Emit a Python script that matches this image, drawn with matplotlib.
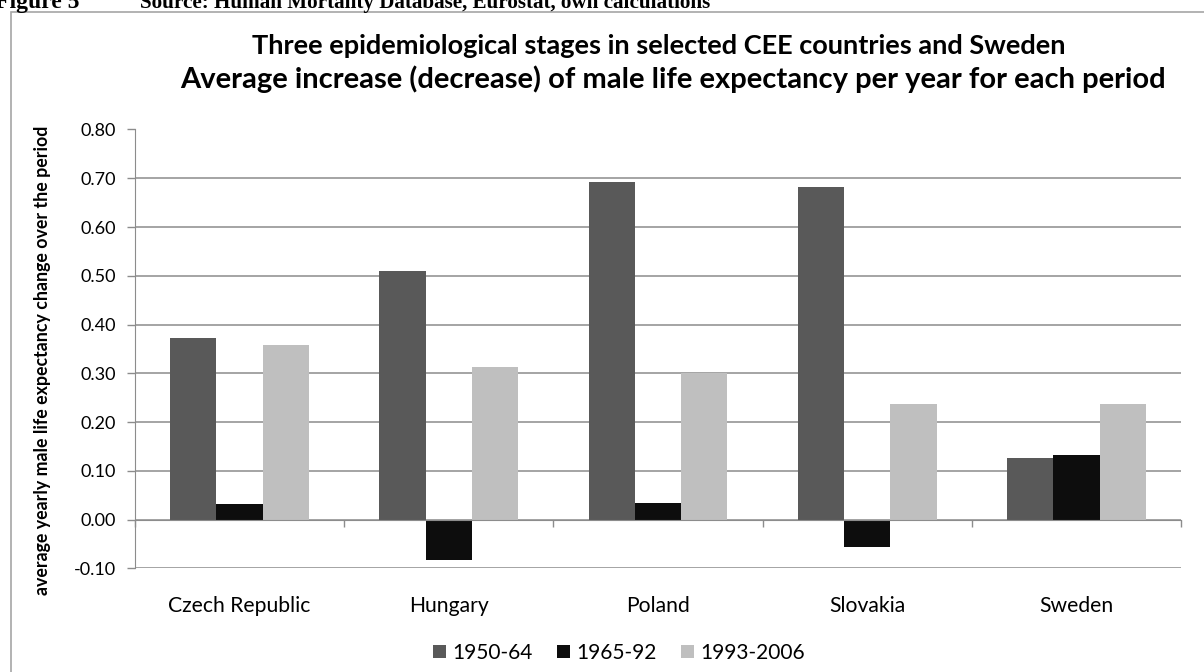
import matplotlib
matplotlib.use("Agg")
import matplotlib.pyplot as plt
import numpy as np
from matplotlib.patches import Rectangle

countries = ["Czech Republic", "Hungary", "Poland", "Slovakia", "Sweden"]
periods = ["1950-64", "1965-92", "1993-2006"]
change_1950_64 = [0.373, 0.510, 0.693, 0.682, 0.127]
change_1965_92 = [0.031, -0.083, 0.033, -0.057, 0.132]
change_1993_2006 = [0.359, 0.313, 0.300, 0.238, 0.238]
yticks = [-0.10, 0.00, 0.10, 0.20, 0.30, 0.40, 0.50, 0.60, 0.70, 0.80]

colors = ["#595959", "#0d0d0d", "#bfbfbf"]
grid_col = "#8c8c8c"
font = "Lato"

W, H = 1204, 672
fig = plt.figure(figsize=(W / 100, H / 100), dpi=100)

# frame around the chart, running off the right and bottom edges
fig.patches.append(Rectangle((11 / W, -0.1), 1.2, 1 - 12 / H + 0.1,
                             transform=fig.transFigure, fill=False,
                             edgecolor="#a6a6a6", lw=1.2))

# cut-off caption line above the chart
fig.text(-0.004, 1 - 8 / H, "Figure 5", family="Liberation Serif",
         weight="bold", size=17, va="baseline")
fig.text(140 / W, 1 - 8 / H,
         "Source: Human Mortality Database, Eurostat, own calculations",
         family="Liberation Serif", weight="bold", size=15.2, va="baseline")

# two-line chart title
fig.text(659 / W, 1 - 46 / H,
         "Three epidemiological stages in selected CEE countries and Sweden",
         family=font, weight="bold", size=19.5, ha="center", va="center")
fig.text(673 / W, 1 - 79 / H,
         "Average increase (decrease) of male life expectancy per year for each period",
         family=font, weight="bold", size=21, ha="center", va="center")

left, right = 135 / W, 1181 / W
bottom, top = 1 - 568.3 / H, 1 - 129.5 / H
ax = fig.add_axes([left, bottom, right - left, top - bottom])

x = np.arange(len(countries))
width = 0.221
series = [change_1950_64, change_1965_92, change_1993_2006]
for i, (vals, col, lab) in enumerate(zip(series, colors, periods)):
    ax.bar(x + (i - 1) * width, vals, width, color=col, label=lab, zorder=3)

ax.set_xlim(-0.5, len(countries) - 0.5)
ax.set_ylim(-0.10, 0.80)
ax.set_yticks(yticks)
ax.set_yticklabels([f"{v:.2f}" for v in yticks], family=font, size=13)
ax.yaxis.grid(True, color=grid_col, lw=1.1, zorder=0)
ax.tick_params(axis="y", direction="out", length=5.5, width=1, color=grid_col,
               pad=8)

for s in ["top", "right"]:
    ax.spines[s].set_visible(False)
ax.spines["left"].set_color(grid_col)
ax.spines["bottom"].set_color(grid_col)
ax.spines["bottom"].set_position(("data", 0))
ax.spines["bottom"].set_zorder(4)

# tick marks between categories, names under the plot
ax.set_xticks(np.arange(len(countries) + 1) - 0.5)
ax.set_xticklabels([])
ax.tick_params(axis="x", which="major", direction="out", length=5, width=1,
               color=grid_col)
ax.set_xticks(x, minor=True)
ax.set_xticklabels(countries, minor=True, family=font, size=15.2)
ax.tick_params(axis="x", which="minor", length=0, pad=55)

ax.set_ylabel("average yearly male life expectancy change over the period",
              family=font, weight="bold", size=12.8)
ax.yaxis.set_label_coords(51 / W, 1 - 360 / H, transform=fig.transFigure)

handles, labels = ax.get_legend_handles_labels()
fig.legend(handles, labels, loc="center", bbox_to_anchor=(619 / W, 1 - 653 / H),
           ncol=3, frameon=False, prop={"family": font, "size": 15},
           handlelength=0.6, handleheight=0.6, handletextpad=0.3,
           columnspacing=1.2)

fig.savefig("out.png", dpi=100)
